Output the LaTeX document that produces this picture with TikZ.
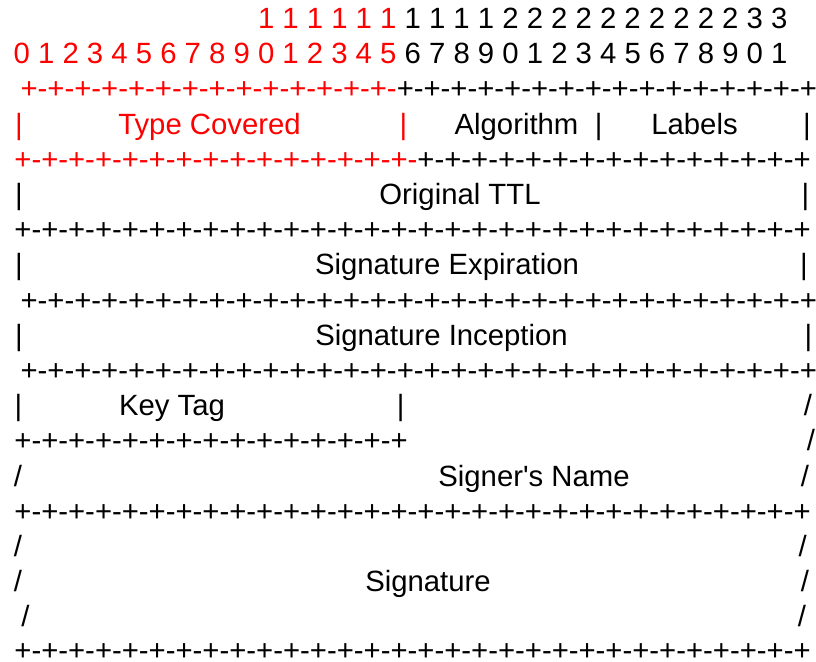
\documentclass[tikz,border=0pt]{standalone}
\usepackage{fontspec}
\newfontfamily\arialf{Liberation Sans}
\ExplSyntaxOn
\NewDocumentCommand\rulepairs{m}{\prg_replicate:nn{#1}{+-}}
\ExplSyntaxOff
\begin{document}
\begin{tikzpicture}[x=1pt,y=-1pt,
  t/.style={font=\arialf\fontsize{29.3}{35}\selectfont, inner sep=0pt, outer sep=0pt, anchor=base},
  tw/.style={t, anchor=base west, text depth=0pt},
  rd/.style={text=red}]
\useasboundingbox (0,0) rectangle (816,661);
% bit numbers
\node[tw] (bitsA) at (258,28.5) {\textcolor{red}{1 1 1 1 1 1} 1 1 1 1 2 2 2 2 2 2 2 2 2 2 3 3};
\node[tw] (bitsB) at (13.7,63.7) {\textcolor{red}{0 1 2 3 4 5 6 7 8 9 0 1 2 3 4 5} 6 7 8 9 0 1 2 3 4 5 6 7 8 9 0 1};
% row 3
\node[tw] (r3) at (20.6,98.9) {\textcolor{red}{\rulepairs{14}}\rulepairs{15}+};
% row 4
\node[t,rd] (b4a) at (19,134.1) {|};
\node[t,rd] (tc) at (209.5,134.1) {Type Covered};
\node[t,rd] (b4b) at (403.3,134.1) {|};
\node[t] (alg) at (516.5,134.1) {Algorithm};
\node[t] (b4c) at (598.7,134.1) {|};
\node[t] (lab) at (694.5,134.1) {Labels};
\node[t] (b4d) at (807,134.1) {|};
% row 5
\node[tw] (r5) at (14.4,169.3) {\textcolor{red}{\rulepairs{15}}\rulepairs{14}+};
% row 6
\node[t] (b6a) at (19,204.5) {|};
\node[t] (ttl) at (460,204.5) {Original TTL};
\node[t] (b6b) at (805.5,204.5) {|};
% row 7
\node[tw] (r7) at (14.4,239.7) {\rulepairs{29}+};
% row 8
\node[t] (b8a) at (19,274.9) {|};
\node[t] (exp) at (447,274.9) {Signature Expiration};
\node[t] (b8b) at (804,274.9) {|};
% row 9
\node[tw] (r9) at (20.6,310.1) {\rulepairs{29}+};
% row 10
\node[t] (b10a) at (19,345.3) {|};
\node[t] (inc) at (441.5,345.3) {Signature Inception};
\node[t] (b10b) at (808.3,345.3) {|};
% row 11
\node[tw] (r11) at (20.6,380.5) {\rulepairs{29}+};
% row 12
\node[t] (b12a) at (18.5,415.7) {|};
\node[t] (kt) at (172,415.7) {Key Tag};
\node[t] (b12b) at (400.7,415.7) {|};
\node[t] (s12) at (808,415.7) {/};
% row 13
\node[tw] (r13) at (14.4,450.9) {\rulepairs{14}+};
\node[t] (s13) at (811,450.9) {/};
% row 14
\node[t] (s14a) at (18,486.1) {/};
\node[t] (sn) at (534,486.1) {Signer's Name};
\node[t] (s14b) at (805,486.1) {/};
% row 15
\node[tw] (r15) at (14.4,521.3) {\rulepairs{29}+};
% row 16
\node[t] (s16a) at (18,556.5) {/};
\node[t] (s16b) at (802.7,556.5) {/};
% row 17
\node[t] (s17a) at (18,591.7) {/};
\node[t] (sig) at (428,591.7) {Signature};
\node[t] (s17b) at (805,591.7) {/};
% row 18
\node[t] (s18a) at (25.5,626.9) {/};
\node[t] (s18b) at (802,626.9) {/};
% row 19
\node[tw] (r19) at (14.4,660.5) {\rulepairs{29}+};
\end{tikzpicture}
\end{document}
